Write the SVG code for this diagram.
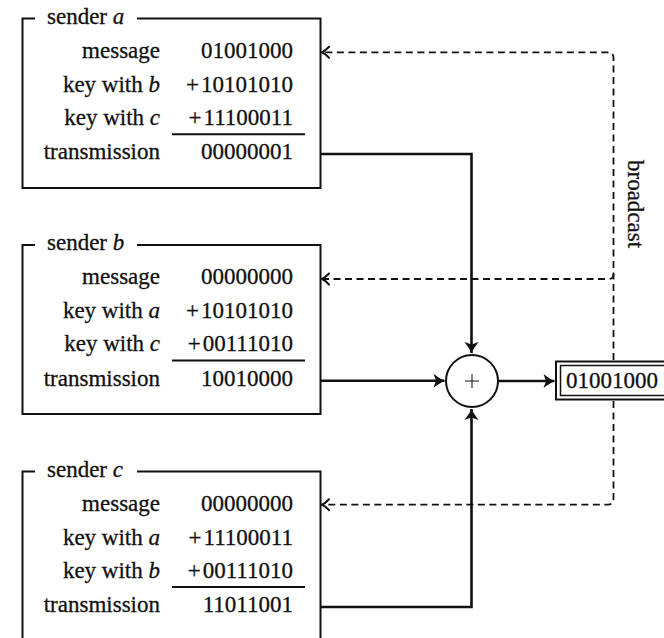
<svg xmlns="http://www.w3.org/2000/svg" width="664" height="638" viewBox="0 0 664 638">
  <defs>
    <style>
      text { font-family: "Liberation Serif", "Times New Roman", serif; font-size: 23px; fill: #111; stroke: #111; stroke-width: 0.3; }
      .lbl { text-anchor: end; }
      .num { text-anchor: end; }
      .v { font-style: italic; }
      .frame { fill: none; stroke: #111; stroke-width: 2; }
      .rule { stroke: #111; stroke-width: 2; }
      .flow { fill: none; stroke: #111; stroke-width: 2.6; marker-end: url(#head); }
      .bcast { fill: none; stroke: #111; stroke-width: 1.8; stroke-dasharray: 7 4.5; }
      .bcast-arrow { marker-end: url(#openhead); }
    </style>
    <marker id="head" markerUnits="userSpaceOnUse" viewBox="-12 -8 14 16" refX="0" refY="0" markerWidth="14" markerHeight="16" orient="auto">
      <path d="M0,0 C-3.5,-1.5 -7.5,-4.5 -11,-7 L-8.5,0 L-11,7 C-7.5,4.5 -3.5,1.5 0,0 Z" fill="#111"/>
    </marker>
    <marker id="openhead" markerUnits="userSpaceOnUse" viewBox="-10 -7 12 14" refX="0" refY="0" markerWidth="12" markerHeight="14" orient="auto">
      <path d="M-7,-5.5 Q-3,-1.2 0,0 Q-3,1.2 -7,5.5" fill="none" stroke="#111" stroke-width="2" stroke-linecap="round"/>
    </marker>
  </defs>

  <!-- sender a -->
  <g id="sender-a">
    <path class="frame" d="M35,18.5 H22.5 V188 H320.5 V18.5 H137"/>
    <text x="47" y="24">sender <tspan class="v">a</tspan></text>
    <text class="lbl" x="160" y="58">message</text>
    <text class="num" x="293" y="58">01001000</text>
    <text class="lbl" x="160" y="92">key with <tspan class="v">b</tspan></text>
    <text class="num" x="293" y="92">+<tspan dx="2">10101010</tspan></text>
    <text class="lbl" x="160" y="125">key with <tspan class="v">c</tspan></text>
    <text class="num" x="293" y="125">+<tspan dx="2">11100011</tspan></text>
    <line class="rule" x1="172" y1="134.3" x2="305" y2="134.3"/>
    <text class="lbl" x="160" y="159">transmission</text>
    <text class="num" x="293" y="159">00000001</text>
  </g>

  <!-- sender b -->
  <g id="sender-b">
    <path class="frame" d="M35,245 H22.5 V414 H320.5 V245 H137"/>
    <text x="47" y="250">sender <tspan class="v">b</tspan></text>
    <text class="lbl" x="160" y="284">message</text>
    <text class="num" x="293" y="284">00000000</text>
    <text class="lbl" x="160" y="318">key with <tspan class="v">a</tspan></text>
    <text class="num" x="293" y="318">+<tspan dx="2">10101010</tspan></text>
    <text class="lbl" x="160" y="351">key with <tspan class="v">c</tspan></text>
    <text class="num" x="293" y="351">+<tspan dx="2">00111010</tspan></text>
    <line class="rule" x1="172" y1="360.5" x2="305" y2="360.5"/>
    <text class="lbl" x="160" y="386">transmission</text>
    <text class="num" x="293" y="386">10010000</text>
  </g>

  <!-- sender c -->
  <g id="sender-c">
    <path class="frame" d="M35,471.5 H22.5 V645 M320.5,645 V471.5 H137"/>
    <text x="47" y="477">sender <tspan class="v">c</tspan></text>
    <text class="lbl" x="160" y="511">message</text>
    <text class="num" x="293" y="511">00000000</text>
    <text class="lbl" x="160" y="545">key with <tspan class="v">a</tspan></text>
    <text class="num" x="293" y="545">+<tspan dx="2">11100011</tspan></text>
    <text class="lbl" x="160" y="578">key with <tspan class="v">b</tspan></text>
    <text class="num" x="293" y="578">+<tspan dx="2">00111010</tspan></text>
    <line class="rule" x1="172" y1="587" x2="305" y2="587"/>
    <text class="lbl" x="160" y="612">transmission</text>
    <text class="num" x="293" y="612">11011001</text>
  </g>

  <!-- adder -->
  <g id="adder">
    <circle cx="472" cy="381" r="26" fill="#fff" stroke="#111" stroke-width="2"/>
    <path d="M465,381 H479 M472,374 V388" stroke="#111" stroke-width="1"/>
  </g>

  <!-- combined result -->
  <g id="result">
    <rect x="556" y="361.5" width="120" height="38" fill="#fff" stroke="#111" stroke-width="2"/>
    <rect x="560.5" y="365.5" width="120" height="30" fill="none" stroke="#111" stroke-width="1.5"/>
    <text x="566" y="388">01001000</text>
  </g>

  <!-- connectors -->
  <g id="connectors">
    <path class="flow" d="M320.5,154 H471.5 V353"/>
    <path class="flow" d="M320.5,380.7 H444.5"/>
    <path class="flow" d="M320.5,607 H471.5 V409"/>
    <path class="flow" d="M498,381 H554.5"/>
    <path class="bcast bcast-arrow" d="M613.5,360 V58 Q613.5,52.3 608,52.3 H322"/>
    <path class="bcast bcast-arrow" d="M613.5,274 Q613.5,279 609,279 H322"/>
    <path class="bcast bcast-arrow" d="M613.5,401 V499 Q613.5,504.7 608,504.7 H322"/>
    <text transform="translate(628,160) rotate(90)">broadcast</text>
  </g>
</svg>
